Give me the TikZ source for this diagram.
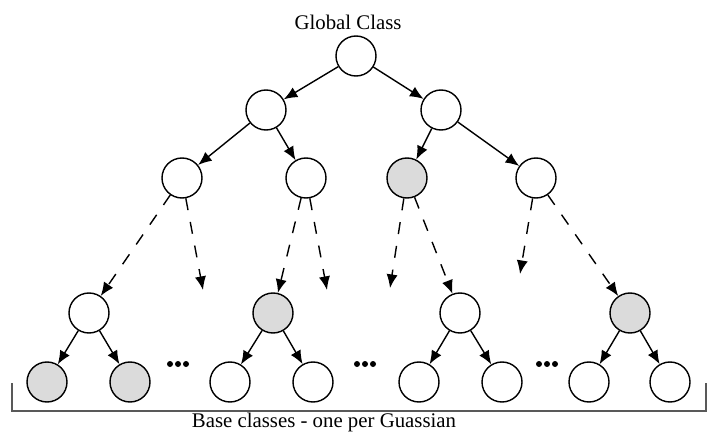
\documentclass[tikz,border=0pt]{standalone}
\usepackage{fontspec}
\setmainfont{Liberation Serif}
\usetikzlibrary{arrows.meta}
\begin{document}
\begin{tikzpicture}[line width=1pt,
  cls/.style={circle, draw, minimum size=1cm, inner sep=0pt},
  pick/.style={cls, fill=black!14},
  link/.style={-{Latex[length=3.4mm,width=2.8mm]}},
  hint/.style={link, dash pattern=on 0.3cm off 0.3cm}]
  \useasboundingbox (0.000,0.000) rectangle (17.925,-10.800);
  \node[cls] (g) at (8.900,-1.400) {};
  \node[cls] (a1) at (6.650,-2.750) {};
  \node[cls] (a2) at (11.025,-2.750) {};
  \node[cls] (b1) at (4.550,-4.450) {};
  \node[cls] (b2) at (7.650,-4.450) {};
  \node[pick] (b3) at (10.175,-4.450) {};
  \node[cls] (b4) at (13.400,-4.450) {};
  \node[cls] (c1) at (2.225,-7.825) {};
  \node[pick] (c2) at (6.825,-7.825) {};
  \node[cls] (c3) at (11.500,-7.825) {};
  \node[pick] (c4) at (15.750,-7.825) {};
  \node[pick] (d1) at (1.175,-9.550) {};
  \node[pick] (d2) at (3.250,-9.550) {};
  \node[cls] (d3) at (5.750,-9.550) {};
  \node[cls] (d4) at (7.825,-9.550) {};
  \node[cls] (d5) at (10.475,-9.550) {};
  \node[cls] (d6) at (12.550,-9.550) {};
  \node[cls] (d7) at (14.725,-9.550) {};
  \node[cls] (d8) at (16.750,-9.550) {};
  % loose ends of the dashed branches
  \coordinate (e1) at (5.075,-7.250);
  \coordinate (e2) at (8.175,-7.250);
  \coordinate (e3) at (9.750,-7.200);
  \coordinate (e4) at (13.000,-6.850);
  \draw[link] (g) -- (a1);
  \draw[link] (g) -- (a2);
  \draw[link] (a1) -- (b1);
  \draw[link] (a1) -- (b2);
  \draw[link] (a2) -- (b3);
  \draw[link] (a2) -- (b4);
  \draw[hint] (b1) -- (c1);
  \draw[hint] (b1) -- (e1);
  \draw[hint] (b2) -- (c2);
  \draw[hint] (b2) -- (e2);
  \draw[hint] (b3) -- (e3);
  \draw[hint] (b3) -- (c3);
  \draw[hint] (b4) -- (e4);
  \draw[hint] (b4) -- (c4);
  \draw[link] (c1) -- (d1);
  \draw[link] (c1) -- (d2);
  \draw[link] (c2) -- (d3);
  \draw[link] (c2) -- (d4);
  \draw[link] (c3) -- (d5);
  \draw[link] (c3) -- (d6);
  \draw[link] (c4) -- (d7);
  \draw[link] (c4) -- (d8);
  \foreach \x in {4.450,9.125,13.675}
    \foreach \d in {-0.200,0.000,0.200}
      \fill (\x+\d,-9.100) circle (0.075);
  \draw[line width=1.3pt, black!65] (0.300,-9.575) -- (0.300,-10.275) -- (17.650,-10.275) -- (17.650,-9.575);
  \node[font=\fontsize{14.8}{17}\selectfont, anchor=base, inner sep=0pt] (top) at (8.700,-0.750) {Global Class};
  \node[font=\fontsize{14.8}{17}\selectfont, anchor=base, inner sep=0pt] (base) at (8.100,-10.680) {Base classes - one per Guassian};
\end{tikzpicture}
\end{document}
